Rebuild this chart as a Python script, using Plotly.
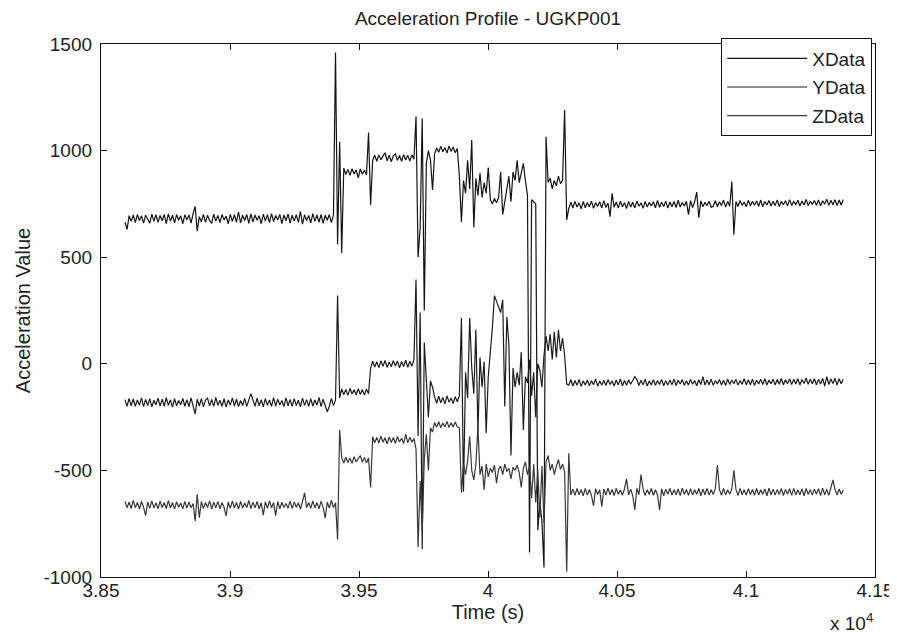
import plotly.graph_objects as go

# ---- sampling clock (s) ----
SAMPLE_START = 38593
SAMPLE_STEP = 8
N_SAMPLES = 349
time_s = [SAMPLE_START + SAMPLE_STEP * i for i in range(N_SAMPLES)]

# ---- series values ----
x_data = [
    # quiet segment
    664, 630, 695, 668, 698, 662, 700, 672, 694, 660,
    697, 676, 659, 702, 668, 699, 663, 696, 671, 701,
    658, 703, 670, 697, 661, 700, 673, 694, 657, 699,
    675, 698, 660, 704, 738, 622, 690, 666, 701, 663,
    697, 671, 659, 702, 669, 696, 662, 700, 674, 693,
    656, 701, 668, 699, 664, 712, 661, 697, 672, 700,
    659, 703, 666, 698, 673, 695, 657, 702, 670, 699,
    662, 704, 667, 696, 675, 701, 658, 698, 671, 703,
    660, 697, 669, 700, 663, 715, 655, 699, 672, 696,
    661, 704, 668, 698, 664, 701, 659, 697, 673, 700,
    662, 698, 1460,
    # first step
    560, 1040, 520, 918, 888, 912, 884, 915, 890, 910, 872, 914, 889, 909, 886, 1085,
    # second step
    745, 955, 978, 950, 980, 957, 975, 990, 952, 979, 948,
    976, 985, 954, 977, 950, 981, 956, 978, 951, 980, 960,
    # disturbance 1
    1160, 500, 640, 1150, 250,
    940, 1000, 955, 815,
    985, 1012, 992, 1020, 995, 1015, 988, 1022, 996, 1017, 990, 1010,
    # disturbance 2
    880, 665, 860, 800, 955, 820, 1050, 640, 870, 790,
    895, 780, 850, 800, 920, 770, 750, 775, 755, 780,
    900, 700, 760, 840, 880, 760, 900, 860, 955, 850,
    890, 940, 860, 790, -885, 770, 760, 750, -780, -650,
    -740, -955, 1065, 850, 870, 820, 860, 835, 880, 845,
    860, 1190, 675,
    # final segment
    728, 758, 730, 762, 735, 755, 727, 761, 732, 757,
    736, 763, 729, 756, 738, 760, 731, 765, 733, 754,
    690, 800, 734, 759, 730, 763, 737, 756, 728, 762,
    735, 758, 731, 764, 739, 755, 729, 761, 736, 757,
    740, 760, 732, 766, 734, 758, 738, 763, 730, 759,
    737, 761, 733, 767, 735, 756, 740, 762, 700, 765,
    733, 760, 805, 685, 764, 736, 758, 741, 763, 734,
    739, 765, 737, 760, 742, 768, 735, 762, 739, 855,
    605, 761, 738, 766, 743, 759, 736, 767, 741, 762,
    744, 764, 739, 768, 737, 761, 745, 766, 740, 763,
    742, 769, 738, 762, 746, 765, 741, 770, 743, 761,
    747, 767, 740, 764, 745, 771, 742, 763, 748, 766,
    744, 769, 741, 765, 749, 772, 743, 767, 746, 770,
    742, 768, 745, 771,
]

y_data = [
    -168, -200, -162, -197, -165, -199, -170, -194, -160, -201,
    -167, -196, -163, -202, -171, -193, -161, -198, -166, -200,
    -159, -195, -169, -203, -164, -197, -172, -192, -162, -199,
    -168, -201, -160, -196, -235, -166, -198, -163, -202, -170,
    -161, -197, -167, -200, -158, -195, -171, -199, -164, -203,
    -169, -194, -160, -198, -166, -201, -172, -196, -162, -200,
    -165, -140, -170, -199, -161, -197, -168, -202, -163, -195,
    -170, -200, -159, -198, -166, -193, -172, -201, -160, -197,
    -167, -199, -163, -196, -171, -202, -161, -195, -168, -200,
    -164, -198, -170, -194, -158, -201, -166, -197, -225, -199,
    -162, -196, -170,
    320, -160, -118, -145, -120, -148, -115, -142, -122, -146, -117, -144, -121, -147, -119, -140,
    -20, 12, -15, 10, -18, 14, -12, 16, -17, 9, -14,
    15, -10, 13, -19, 11, -13, 17, -16, 12, -11, 20,
    395, -340, 240, -870, 100,
    -60, -250, -80, -110,
    -155, -185, -152, -183, -158, -188, -150, -180, -160, -186, -154, -178,
    -150, 215, -600, -40, -160, 215, -20, -140, 160, -320,
    30, -110, 10, -325, -60, 40, 170, 320, 290, 260,
    240, 300, -200, 220, 90, -430, -20, -110, -40, -100,
    55, -310, -60, -90, 20, -150, -40, -250, 0, -30,
    -110, 40, 130, 60, 140, 20, 150, 30, 160, 60,
    120, 40, -95,
    -100, -75, -104, -78, -101, -73, -106, -80, -99, -76,
    -103, -79, -98, -72, -105, -81, -100, -77, -102, -74,
    -97, -80, -104, -76, -99, -71, -103, -78, -101, -75,
    -96, -79, -60, -74, -102, -77, -98, -72, -104, -80,
    -99, -75, -101, -78, -97, -73, -103, -79, -100, -76,
    -98, -72, -102, -77, -95, -74, -101, -80, -99, -73,
    -96, -78, -103, -75, -97, -60, -100, -76, -98, -72,
    -101, -79, -95, -74, -99, -77, -102, -71, -97, -76,
    -94, -73, -100, -78, -96, -70, -99, -75, -98, -72,
    -101, -77, -95, -73, -97, -70, -100, -76, -94, -72,
    -99, -74, -96, -69, -98, -75, -93, -71, -97, -73,
    -95, -70, -99, -74, -92, -68, -96, -72, -94, -70,
    -98, -73, -95, -69, -105, -60, -97, -71, -93, -68,
    -100, -70, -94, -72,
]

z_data = [
    -645, -676, -648, -679, -641, -675, -650, -681, -646, -673,
    -712, -649, -678, -643, -677, -652, -680, -644, -674, -651,
    -679, -642, -676, -650, -682, -647, -673, -653, -680, -645,
    -677, -648, -675, -655, -738, -612, -722, -646, -679, -651,
    -674, -643, -681, -649, -676, -645, -680, -652, -673, -714,
    -648, -678, -644, -675, -650, -682, -646, -677, -653, -674,
    -641, -679, -649, -676, -645, -681, -652, -710, -647, -678,
    -643, -675, -651, -712, -646, -680, -649, -674, -655, -677,
    -644, -679, -648, -673, -652, -681, -646, -605, -675, -650,
    -678, -643, -676, -651, -680, -645, -673, -724, -649, -677,
    -640, -675, -652,
    -825, -310, -440, -465, -438, -463, -442, -467, -436, -460, -444, -430, -462, -439, -466, -441,
    -580, -342, -370, -345, -372, -340, -368, -347, -375, -343, -369,
    -346, -373, -341, -367, -349, -374, -330, -371, -344, -368, -350,
    -400, -860, -550, -780, -450,
    -330, -500, -300, -320,
    -275, -298, -272, -300, -278, -296, -270, -299, -276, -297, -273, -295,
    -300, -605, -470, -520, -455, -340, -500, -545, -470, -295,
    -520, -480, -590, -470, -530, -490, -510, -475, -560, -495,
    -480, -520, -470, -505, -490, -540, -485, -500, -475, -510,
    -580, -490, -460, -520, -480, -630, -470, -650, -500, -720,
    -480, -745, -460, -430, -500, -470, -520, -480, -450, -495,
    -470, -505, -975,
    -420, -615, -588, -617, -585, -614, -590, -619, -584, -616,
    -589, -618, -665, -586, -613, -591, -670, -587, -616, -583,
    -614, -589, -618, -585, -612, -592, -617, -586, -540, -615,
    -588, -619, -685, -584, -614, -520, -587, -618, -590, -613,
    -585, -617, -591, -615, -685, -586, -619, -588, -612, -584,
    -616, -590, -614, -587, -618, -583, -613, -589, -617, -586,
    -615, -591, -612, -585, -619, -588, -614, -584, -616, -590,
    -613, -586, -475, -589, -617, -585, -615, -591, -612, -587,
    -500, -588, -618, -584, -614, -590, -616, -586, -613, -589,
    -617, -585, -615, -591, -612, -587, -619, -583, -614, -588,
    -616, -590, -613, -585, -618, -589, -612, -586, -617, -584,
    -615, -591, -614, -587, -619, -585, -613, -590, -616, -588,
    -612, -586, -618, -583, -614, -589, -617, -585, -545, -590,
    -615, -587, -612, -592,
]

assert len(x_data) == N_SAMPLES, len(x_data)
assert len(y_data) == N_SAMPLES, len(y_data)
assert len(z_data) == N_SAMPLES, len(z_data)

series_names = ["XData", "YData", "ZData"]
series_values = [x_data, y_data, z_data]
series_colors = ["#141414", "#1c1c1c", "#383838"]

x_tick_vals = [38500, 39000, 39500, 40000, 40500, 41000, 41500]
x_tick_text = ["3.85", "3.9", "3.95", "4", "4.05", "4.1", "4.15"]
y_tick_vals = [-1000, -500, 0, 500, 1000, 1500]
y_tick_text = ["-1000", "-500", "0", "500", "1000", "1500"]

FONT = "Liberation Sans, Arial, Helvetica, sans-serif"

fig = go.Figure()
for name, vals, col in zip(series_names, series_values, series_colors):
    fig.add_trace(go.Scatter(x=time_s, y=vals, mode="lines", name=name, legendgroup=name,
                             line=dict(color=col, width=1.2)))

axis_common = dict(showgrid=False, zeroline=False, showline=True, linecolor="#111",
                   linewidth=1.3, mirror="allticks", ticks="inside", ticklen=6,
                   tickcolor="#111", tickwidth=1.3, automargin=False,
                   tickfont=dict(family=FONT, size=19, color="#222"))

# the page body adds an 8 px offset, so the figure is sized to fill the rest of the window
fig.update_layout(
    width=889, height=630,
    paper_bgcolor="white", plot_bgcolor="white",
    margin=dict(l=93, r=22, t=36, b=61),
    font=dict(family=FONT, color="#222"),
    title=dict(text="Acceleration Profile - UGKP001", x=0.5, xanchor="center", xref="paper",
               y=1.0, yanchor="top", pad=dict(t=4, b=0),
               font=dict(family=FONT, size=19, color="#222")),
    showlegend=True,
    legend=dict(x=0.996, xanchor="right", y=1.011, yanchor="top", bgcolor="white",
                bordercolor="#111", borderwidth=1.3, tracegroupgap=1,
                font=dict(family=FONT, size=19, color="#222"), itemwidth=80),
    xaxis=dict(range=[38500, 41500], tickvals=x_tick_vals, ticktext=x_tick_text,
               ticklabelstandoff=-4,
               title=dict(text="Time (s)", font=dict(family=FONT, size=20, color="#222"),
                          standoff=2),
               **axis_common),
    yaxis=dict(range=[-1000, 1500], tickvals=y_tick_vals, ticktext=y_tick_text,
               ticklabelstandoff=4,
               title=dict(text="Acceleration Value", font=dict(family=FONT, size=20, color="#222"),
                          standoff=7),
               **axis_common),
)

fig.add_annotation(xref="paper", yref="paper", x=1.0, y=-0.111, xanchor="right",
                   yanchor="bottom", showarrow=False, text="x 10<sup>4</sup>",
                   font=dict(family=FONT, size=19, color="#222"))

fig.write_html("out.html")
